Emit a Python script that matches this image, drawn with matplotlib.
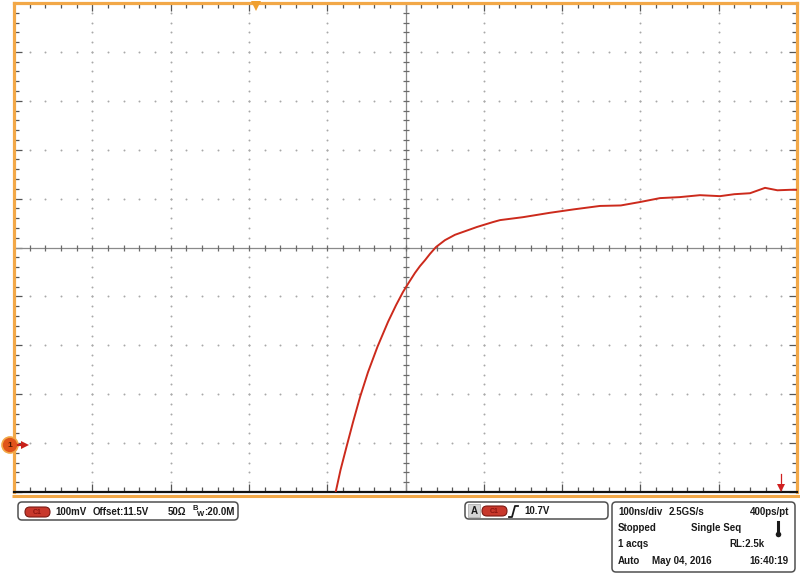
import numpy as np
import matplotlib
matplotlib.use("Agg")
import matplotlib.pyplot as plt
from matplotlib.patches import FancyBboxPatch, Rectangle, Circle
from matplotlib.ticker import MultipleLocator

# --- DATA ---
trace_time_ns = [-90.5, -83.0, -75.4, -67.0, -58.1, -47.9, -35.8, -22.3, -12.1, -3.2,
                 4.5, 12.1, 18.5, 24.9, 31.3, 39.0, 50.4, 63.2, 77.3, 91.3,
                 111.7, 120.7, 150, 184.5, 215, 248.4, 275, 299.5, 325.0, 350,
                 376.1, 401.7, 420, 440.0, 459.2, 475, 491.1, 500]
trace_volts = [10.99, 11.045, 11.092, 11.143, 11.194, 11.245, 11.297, 11.348, 11.382, 11.409,
               11.429, 11.448, 11.462, 11.474, 11.487, 11.501, 11.515, 11.526, 11.534, 11.542,
               11.552, 11.556, 11.562, 11.571, 11.578, 11.585, 11.586, 11.593, 11.601, 11.603,
               11.607, 11.605, 11.609, 11.611, 11.622, 11.617, 11.618, 11.618]

ch_label = "C1"
ch_texts = ["100mV", "Offset:11.5V", "50\u03a9"]
bw_text = ":20.0M"
trig_level = "10.7V"
acq_rows = [
    [("100ns/div", 618, "left"), ("2.5GS/s", 669, "left"), ("400ps/pt", 789, "right")],
    [("Stopped", 618, "left"), ("Single Seq", 691, "left")],
    [("1 acqs", 618, "left"), ("RL:2.5k", 764, "right")],
    [("Auto", 618, "left"), ("May 04, 2016", 652, "left"), ("16:40:19", 789, "right")],
]

# --- CONFIG ---
W, H = 800, 575
orange = "#f2a848"
trace_red = "#cc2a1c"
dot_gray = "#a8a8a8"
txt_col = "#1a1a1a"
font = ["Liberation Sans", "DejaVu Sans"]
t_span, v_center, v_div = 500, 11.5, 0.1

fig = plt.figure(figsize=(W / 100, H / 100), dpi=100)
left, right, top, bottom = 14, 797, 3, 492
ax = fig.add_axes([left / W, 1 - bottom / H, (right - left) / W, (bottom - top) / H])
ax.set_xlim(-t_span, t_span)
ax.set_ylim(v_center - 5 * v_div, v_center + 5 * v_div)

# graticule dots along major divisions
t_major = np.arange(-400, 401, 100)
v_major = v_center + np.arange(-4, 5) * v_div
t_minor = np.arange(-500, 501, 20)
v_minor = v_center + np.arange(-25, 26) * v_div / 5
for t in t_major:
    if t != 0:
        ax.plot(np.full(len(v_minor), t), v_minor, ls="none", marker="o", ms=1.4,
                color=dot_gray, mew=0)
for v in v_major:
    if abs(v - v_center) > 1e-9:
        ax.plot(t_minor, np.full(len(t_minor), v), ls="none", marker="o", ms=1.4,
                color=dot_gray, mew=0)

# centre cross with ticks
ax.axhline(v_center, color="#8a8a8a", lw=0.9)
ax.axvline(0, color="#8a8a8a", lw=0.9)
ax.plot(t_minor, np.full(len(t_minor), v_center), ls="none", marker="|", ms=5,
        color="#6a6a6a", mew=0.9)
ax.plot(np.zeros(len(v_minor)), v_minor, ls="none", marker="_", ms=5,
        color="#6a6a6a", mew=0.9)

# waveform
ax.plot(trace_time_ns, trace_volts, color=trace_red, lw=1.4, zorder=5,
        solid_joinstyle="round")

# edge ticks
ax.xaxis.set_major_locator(MultipleLocator(100))
ax.xaxis.set_minor_locator(MultipleLocator(20))
ax.yaxis.set_major_locator(MultipleLocator(v_div))
ax.yaxis.set_minor_locator(MultipleLocator(v_div / 5))
ax.tick_params(which="both", direction="in", top=True, right=True, bottom=True, left=True,
               labelbottom=False, labelleft=False, color="#555555", width=0.9)
ax.tick_params(which="major", length=6)
ax.tick_params(which="minor", length=3.5)

for s in ["left", "top", "right"]:
    ax.spines[s].set_color(orange)
    ax.spines[s].set_linewidth(2.3)
ax.spines["bottom"].set_color("#111111")
ax.spines["bottom"].set_linewidth(1.6)

# --- overlay in pixel coordinates ---
ov = fig.add_axes([0, 0, 1, 1], zorder=10)
ov.set_xlim(0, W)
ov.set_ylim(H, 0)
ov.axis("off")

ov.plot([12, W], [495.5, 495.5], color=orange, lw=2.2, solid_capstyle="butt")

# trigger position marker
ov.plot(256, 6, marker="v", ms=7, color="#f0a030", mew=0)
# channel 1 ground marker
ov.add_patch(Circle((10, 445), 8, fc="#e0541a", ec="#f2a848", lw=1.2))
ov.text(10, 445.5, "1", ha="center", va="center", fontsize=6, fontweight="bold",
        color="#4a1500", family=font)
ov.plot([18, 24], [445, 445], color="#c8201a", lw=1.6)
ov.plot(25, 445, marker=">", ms=5.5, color="#c8201a", mew=0)
# red marker at bottom right
ov.plot([781, 781], [474, 487], color="#d02020", lw=0.9)
ov.plot(781, 488, marker="v", ms=6, color="#d02020", mew=0)

def box(x, y, w, h):
    ov.add_patch(FancyBboxPatch((x, y), w, h, boxstyle="round,pad=0,rounding_size=4",
                                fc="white", ec="#505050", lw=1.1))

def pill(x, y):
    ov.add_patch(FancyBboxPatch((x, y), 25, 10, boxstyle="round,pad=0,rounding_size=5",
                                fc="#c8382c", ec="#7a1a14", lw=0.8))
    ov.text(x + 12.5, y + 5.3, ch_label, ha="center", va="center", fontsize=5,
            fontweight="bold", color="#8a1410", family=font)

def label(x, y, s, ha="left", size=7):
    ov.text(x, y, s, ha=ha, va="center", fontsize=size, fontweight="bold",
            color=txt_col, family=font)

# channel box
box(18, 502, 220, 18)
pill(25, 507)
for s, x in zip(ch_texts, [55, 93, 168]):
    label(x, 512, s)
label(192.5, 508.5, "B", size=5.5)
label(197, 514.5, "W", size=5.5)
label(204, 512, bw_text)

# trigger box
box(465, 502, 143, 17)
ov.add_patch(Rectangle((468, 504), 12, 13, fc="#d4d4d4", ec="#b0b0b0", lw=0.6))
label(474, 511, "A", ha="center")
pill(482, 506)
ov.plot([509, 512, 515, 518], [517, 517, 506, 506], color=txt_col, lw=1.3)
label(524, 511, trig_level)

# acquisition box
box(612, 502, 183, 70)
for row, y in zip(acq_rows, [512, 528, 544, 561]):
    for s, x, ha in row:
        label(x, y, s, ha=ha)
ov.plot([778, 778], [522, 533], color=txt_col, lw=2.2)
ov.plot(778, 534, marker="o", ms=4, color=txt_col, mew=0)

fig.savefig("out.png", dpi=100)
